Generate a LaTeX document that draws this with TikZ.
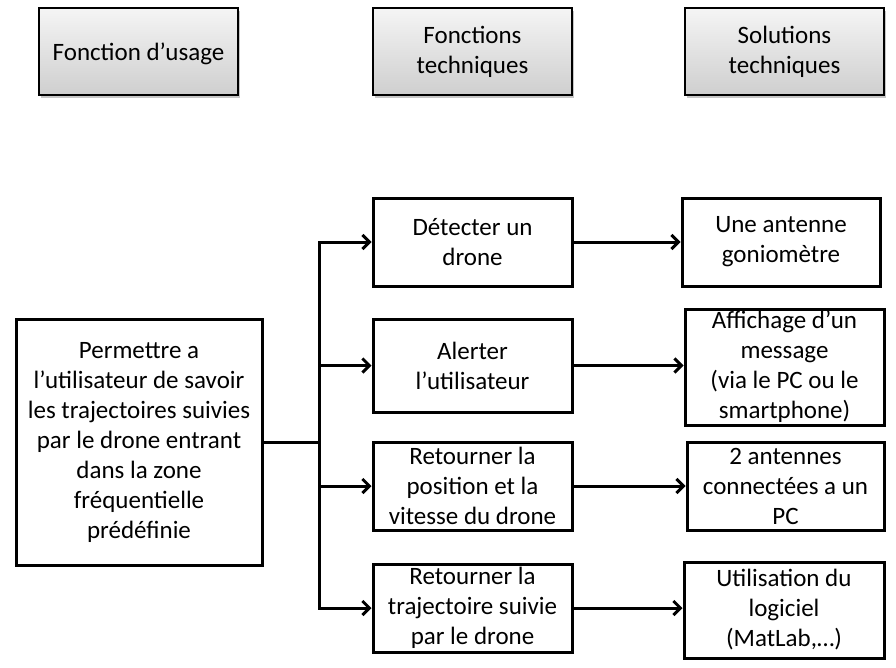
\documentclass[tikz,border=0pt]{standalone}
\usepackage{fontspec}
\setmainfont{Carlito}
\usetikzlibrary{positioning,arrows.meta,shadows}

\begin{document}
\begin{tikzpicture}[x=1pt,y=-1pt,
	head/.style={draw=black,line width=1.4pt,top color=gray!8,bottom color=gray!38,
		drop shadow={shadow xshift=2pt,shadow yshift=-3pt,opacity=.45},
		minimum width=199pt,minimum height=87pt,align=center,inner sep=0pt},
	box/.style={draw=black,line width=3pt,fill=white,align=center,inner sep=0pt},
	link/.style={line width=3pt},
	arr/.style={line width=3pt,-{Straight Barb[length=7pt,width=14pt,line width=3pt]}}]
	\useasboundingbox (0,0) rectangle (896,667);
	\fontsize{25pt}{30pt}\selectfont
	% en-tetes
	\node[head,text depth=0pt] (h1) at (138.5,51.5) {Fonction d’usage};
	\node[head] (h2) at (472.5,51.5) {Fonctions\\techniques};
	\node[head] (h3) at (784.5,51.5) {Solutions\\techniques};
	% fonction d'usage
	\node[box,minimum width=246pt,minimum height=246pt] (fu) at (139,442)
		{Permettre a\\l’utilisateur de savoir\\les trajectoires suivies\\par le drone entrant\\dans la zone\\fréquentielle\\prédéfinie};
	% fonctions techniques
	\node[box,minimum width=199pt,minimum height=88pt] (ft1) at (472.5,242) {Détecter un\\drone};
	\node[box,minimum width=199pt,minimum height=93pt] (ft2) at (472.5,365.5) {Alerter\\l’utilisateur};
	\node[box,minimum width=199pt,minimum height=88pt] (ft3) at (472.5,486) {Retourner la\\position et la\\vitesse du drone};
	\node[box,minimum width=199pt,minimum height=88pt] (ft4) at (472.5,608) {Retourner la\\trajectoire suivie\\par le drone};
	% solutions techniques
	\node[box,minimum width=198pt,minimum height=88pt] (st1) at (781,242) {Une antenne\\goniomètre};
	\node[box,minimum width=199pt,minimum height=116pt] (st2) at (784.5,367) {Affichage d’un\\message\\(via le PC ou le\\smartphone)};
	\node[box,minimum width=197pt,minimum height=88pt] (st3) at (785.5,486) {2 antennes\\connectées a un\\PC};
	\node[box,minimum width=200pt,minimum height=96pt] (st4) at (784,610) {Utilisation du\\logiciel\\(MatLab,…)};
	% liaisons
	\draw[link] (fu.east) -- ++(56,0) coordinate (br);
	\foreach \i in {1,2,3,4}
		\draw[arr] (br) |- (ft\i.west);
	\foreach \i in {1,2,3,4}
		\draw[arr] (ft\i.east) -- (ft\i.east -| st\i.west);
\end{tikzpicture}
\end{document}
